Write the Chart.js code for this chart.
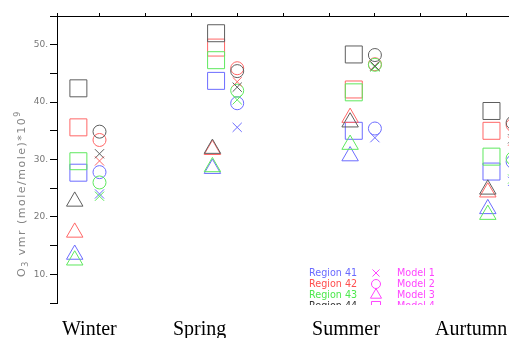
<!DOCTYPE html>
<html lang="en">
<head>
<meta charset="UTF-8">
<title>O3 vmr by season</title>
<script src="https://cdn.jsdelivr.net/npm/chart.js"></script>
<style>
  html, body { margin: 0; padding: 0; background: #fff; overflow: hidden; width: 509px; height: 338px; }
  #wrap { position: relative; width: 540px; height: 338px; }
</style>
</head>
<body>
<div id="wrap"><canvas id="chart" width="540" height="338"></canvas></div>
<script>
const seasons = ['Winter', 'Spring', 'Summer', 'Aurtumn'];
const regions = ['Region 41', 'Region 42', 'Region 43', 'Region 44'];
const models = ['Model 1', 'Model 2', 'Model 3', 'Model 4'];

// slot of each season on the x axis, and where each model sits inside it
const seasonX = [0, 3, 6, 9];
const modelShift = [1.0, 1.0, 0.46, 0.54];

// O3 vmr, rows = region 41..44, columns = Winter, Spring, Summer, Aurtumn
const model1 = [
    [24.0, 35.6, 33.8, 26.2],
    [29.75, 43.55, 46.3, 33.2],
    [23.6, 40.4, 46.1, 26.6],
    [31.0, 42.6, 46.3, 33.6]
];
const model2 = [
    [27.8, 39.8, 35.4, 29.6],
    [33.4, 45.9, 46.6, 36.0],
    [26.0, 42.0, 46.5, 30.2],
    [34.85, 45.4, 48.2, 36.4]
];
const model3 = [
    [13.45, 28.4, 30.6, 21.4],
    [17.3, 31.7, 37.3, 24.3],
    [12.45, 28.7, 32.6, 20.4],
    [22.7, 31.9, 36.5, 24.8]
];
const model4 = [
    [27.7, 43.7, 35.0, 27.9],
    [35.6, 49.5, 42.2, 35.0],
    [29.7, 47.3, 41.7, 30.5],
    [42.4, 52.0, 48.3, 38.45]
];
const modelData = [model1, model2, model3, model4];

const regionColors = ['#6c6cff', '#ff6666', '#5ee85e', '#5e5e5e'];
const regionTextColors = ['#6a6aff', '#ff4e4e', '#4ee84e', '#333333'];
const modelStyles = ['crossRot', 'circle', 'triangle', 'rect'];
const modelRadius = [6.5, 6.5, 9.5, 12];
const legendRadius = [5, 4.5, 6.4, 6.4];
const magenta = '#ff44ff';
const seasonLabelX = [0.183, 2.601, 5.63, 8.31];

// region 44 first so it ends up drawn on top
const datasets = [];
for (let m = 0; m < 4; m++) {
    for (let r = 3; r >= 0; r--) {
        datasets.push({
            label: regions[r] + ' ' + models[m],
            data: seasons.map((s, i) => ({ x: seasonX[i] + modelShift[m], y: modelData[m][r][i] })),
            pointStyle: modelStyles[m],
            pointRadius: modelRadius[m],
            borderColor: regionColors[r],
            backgroundColor: 'rgba(0,0,0,0)',
            pointBorderWidth: 1,
            showLine: false,
            clip: false
        });
    }
}

const decor = {
    id: 'decor',
    afterDraw(chart) {
        const { ctx, scales } = chart;
        ctx.save();

        // season names under the plot
        ctx.font = '20px "Liberation Serif", "Times New Roman", serif';
        ctx.fillStyle = '#000';
        ctx.textAlign = 'left';
        ctx.textBaseline = 'alphabetic';
        seasons.forEach((s, i) => ctx.fillText(s, scales.x.getPixelForValue(seasonLabelX[i]), 335));

        // y title, rotated, with sub and superscript
        ctx.save();
        ctx.translate(25, 277);
        ctx.rotate(-Math.PI / 2);
        ctx.fillStyle = '#858585';
        if ('letterSpacing' in ctx) ctx.letterSpacing = '1.5px';
        const pieces = [['O', 11, 0], ['3', 8, 3], [' vmr (mole/mole)*10', 11, 0], ['9', 8, -5]];
        let pos = 0;
        pieces.forEach(p => {
            ctx.font = p[1] + 'px "DejaVu Sans", sans-serif';
            ctx.fillText(p[0], pos, p[2]);
            pos += ctx.measureText(p[0]).width;
        });
        ctx.restore();

        // legend, cut by the bottom of the frame
        ctx.beginPath();
        ctx.rect(0, 0, 540, 305);
        ctx.clip();
        ctx.font = '9.6px "DejaVu Sans", sans-serif';
        ctx.textBaseline = 'middle';
        for (let i = 0; i < 4; i++) {
            const y = 273 + 11 * i;
            ctx.fillStyle = regionTextColors[i];
            ctx.fillText(regions[i], 309, y);
            ctx.fillStyle = magenta;
            ctx.fillText(models[i], 397, y);
            ctx.fillStyle = 'rgba(0,0,0,0)';
            ctx.strokeStyle = magenta;
            ctx.lineWidth = 1;
            Chart.helpers.drawPoint(ctx, { pointStyle: modelStyles[i], radius: legendRadius[i], rotation: 0, borderWidth: 1 }, 376, y);
        }
        ctx.restore();
    }
};

new Chart(document.getElementById('chart'), {
    type: 'scatter',
    data: { datasets },
    options: {
        responsive: false,
        animation: false,
        events: [],
        layout: { autoPadding: false, padding: { left: 0, right: 0, top: 0, bottom: 35 } },
        plugins: { legend: { display: false }, tooltip: { enabled: false } },
        scales: {
            x: {
                type: 'linear',
                position: 'top',
                min: 0.074,
                max: 10.597,
                afterBuildTicks: s => { s.ticks = [0.074, 1, 2, 3, 4, 5, 6, 7, 8, 9, 10].map(v => ({ value: v })); },
                afterFit: s => { s.height = 16; },
                ticks: { display: false },
                grid: { display: true, drawOnChartArea: false, drawTicks: true, tickLength: 3, color: '#000' },
                border: { display: true, color: '#000', width: 1 }
            },
            y: {
                type: 'linear',
                min: 5,
                max: 55,
                afterFit: s => { s.width = 57; },
                ticks: {
                    stepSize: 5,
                    padding: 2,
                    color: '#777',
                    font: { family: '"DejaVu Sans", sans-serif', size: 9 },
                    callback: v => (v % 10 === 0 ? v + '.' : '')
                },
                grid: { display: true, drawOnChartArea: false, drawTicks: true, tickLength: 7, color: '#000' },
                border: { display: true, color: '#000', width: 1 }
            }
        }
    },
    plugins: [decor]
});
</script>
</body>
</html>
